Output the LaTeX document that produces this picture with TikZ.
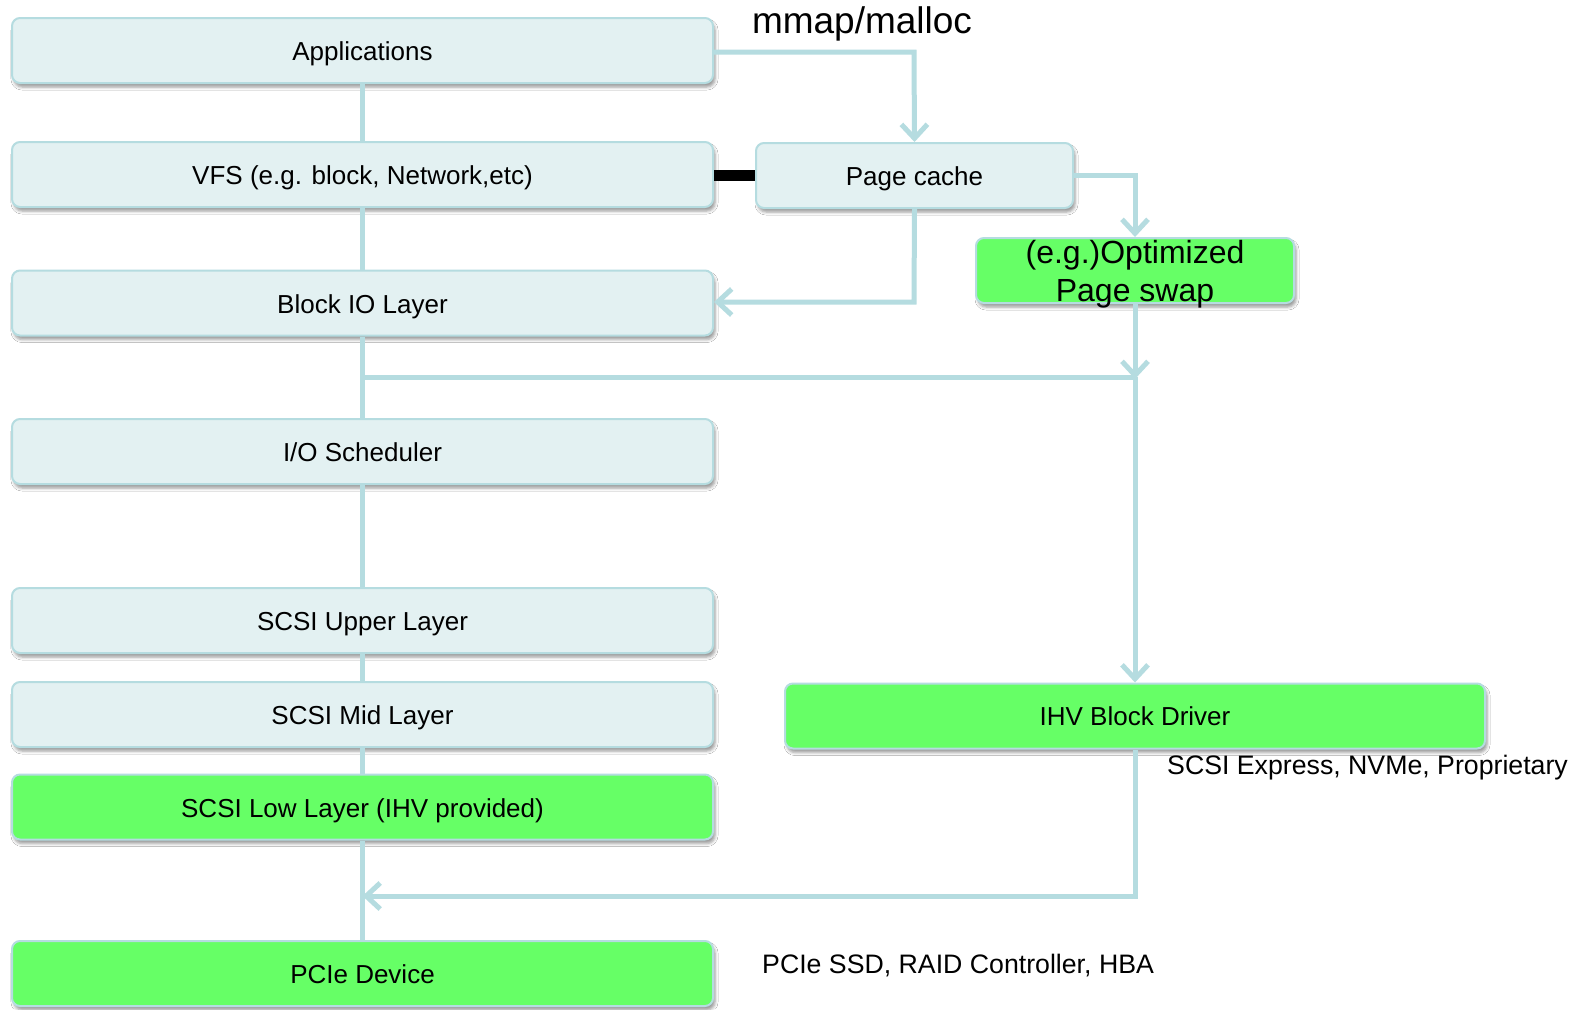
\documentclass[tikz,border=0pt]{standalone}
\usepackage{fontspec}
\setmainfont{Liberation Sans}
\usetikzlibrary{arrows.meta,shadows.blur}
\definecolor{boxfill}{HTML}{E3F1F2}
\definecolor{boxline}{HTML}{B5DCE0}
\definecolor{conn}{HTML}{B5DCE0}
\definecolor{greenfill}{HTML}{66FF66}
\begin{document}
\begin{tikzpicture}[x=1pt,y=-1pt,
  layer/.style={draw=boxline, line width=2pt, fill=boxfill, rounded corners=8pt,
    minimum height=65pt, inner sep=0pt, font=\fontsize{26}{31}\selectfont,
    blur shadow={shadow xshift=2pt, shadow yshift=-4pt, shadow blur radius=3pt, shadow opacity=40}},
  fixbase/.style={text height=24pt, text depth=4pt},
  wide/.style={layer, fixbase, minimum width=701pt},
  gbox/.style={fill=greenfill},
  conn/.style={draw=conn, line width=5pt},
  arr/.style={conn, -{Straight Barb[length=14pt,width=26pt]}},
  note/.style={font=\fontsize{26.7}{32}\selectfont, inner sep=0pt}]
\useasboundingbox (0,0) rectangle (1587,1009);
\fill[white] (0,0) rectangle (1587,1009);

\coordinate (apcorner) at (914,52);
\coordinate (pcright) at (1135,175.5);
\coordinate (pcdown) at (914,302);
\coordinate (junc) at (1135,377);
\coordinate (mainj) at (362.5,377);
\coordinate (ihvdown) at (1135,896);
\coordinate (mainlow) at (362.5,896);

% boxes
\node[wide] (app) at (362.5,50.5) {Applications};
\node[wide] (vfs) at (362.5,174.5) {VFS (e.g. block, Network,etc)};
\node[wide] (bio) at (362.5,303) {Block IO Layer};
\node[wide] (ios) at (362.5,451.5) {I/O Scheduler};
\node[wide] (sup) at (362.5,620.5) {SCSI Upper Layer};
\node[wide] (smid) at (362.5,714.5) {SCSI Mid Layer};
\node[wide,gbox] (slow) at (362.5,807) {SCSI Low Layer (IHV provided)};
\node[wide,gbox] (pcie) at (362.5,973.5) {PCIe Device};
\node[layer, fixbase, minimum width=317pt] (pc) at (914.5,175.5) {Page cache};
\node[layer, gbox, minimum width=318pt, font=\fontsize{32}{38}\selectfont] (ops) at (1135,270.5)
  {\raisebox{-11pt}[0pt][0pt]{\begin{tabular}{@{}c@{}}(e.g.)Optimized\\Page swap\end{tabular}}};
\node[layer, gbox, minimum width=700pt] (ihv) at (1135,716) {IHV Block Driver};

% vertical chain
\draw[conn] (app.south) -- (vfs.north);
\draw[conn] (vfs.south) -- (bio.north);
\draw[conn] (bio.south) -- (ios.north);
\draw[conn] (ios.south) -- (sup.north);
\draw[conn] (sup.south) -- (smid.north);
\draw[conn] (smid.south) -- (slow.north);
\draw[conn] (slow.south) -- (pcie.north);

% side connectors
\draw[arr] (app.east |- apcorner) -- (apcorner) -- (pc.north);
\draw[arr] (pc.east) -- (pcright) -- (ops.north);
\draw[arr] (pc.south) -- (pcdown) -- (bio.east |- pcdown);
\draw[conn] (mainj) -- (junc);
\draw[arr] (ops.south) -- ([yshift=-2pt]junc);
\draw[arr] (junc) -- (ihv.north);
\draw[arr] (ihv.south) -- (ihvdown) -- (mainlow);
\draw[line width=11pt, black] (vfs.east |- pc.west) -- (pc.west);

% labels
\node[font=\fontsize{37}{44}\selectfont, inner sep=0pt] (mm) at (862,24) {mmap/malloc};
\node[note, anchor=west] (scx) at (1167,768) {SCSI Express, NVMe, Proprietary};
\node[note, anchor=west] (pss) at (762,966) {PCIe SSD, RAID Controller, HBA};
\end{tikzpicture}
\end{document}
